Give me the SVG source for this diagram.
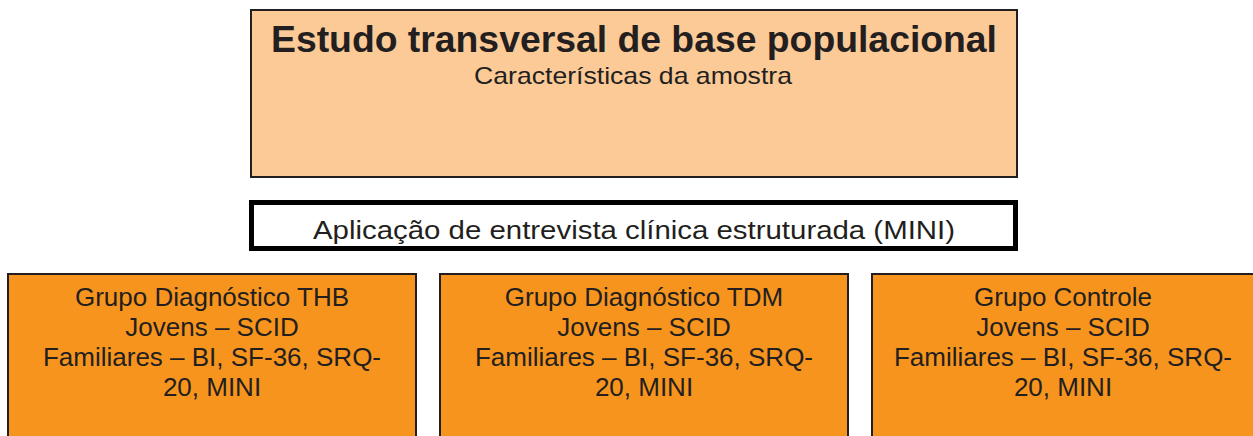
<svg xmlns="http://www.w3.org/2000/svg" width="1253" height="436" viewBox="0 0 1253 436">
<style>
.t{font-family:"Liberation Sans",Arial,sans-serif;fill:#231F20;text-anchor:middle}
.g{fill:#F7941D;stroke:#231F20;stroke-width:2}
.l{font-size:26px}
</style>
<rect width="1253" height="436" fill="#fff"/>
<g id="estudo">
<rect x="251" y="10" width="766" height="167" fill="#FCCA96" stroke="#231F20" stroke-width="2"/>
<text class="t" x="634" y="52" font-size="36" font-weight="bold" textLength="726" lengthAdjust="spacingAndGlyphs">Estudo transversal de base populacional</text>
<text class="t" x="633" y="84" font-size="24" textLength="318" lengthAdjust="spacingAndGlyphs">Características da amostra</text>
</g>
<g id="mini">
<rect x="251.5" y="202.5" width="764" height="46" fill="#fff" stroke="#000" stroke-width="5"/>
<text class="t" x="634" y="239" font-size="26" textLength="642" lengthAdjust="spacingAndGlyphs">Aplicação de entrevista clínica estruturada (MINI)</text>
</g>
<g id="thb">
<rect class="g" x="8" y="274" width="408" height="170"/>
<text class="t l" x="212" y="306">Grupo Diagnóstico THB</text>
<text class="t l" x="212" y="336">Jovens – SCID</text>
<text class="t l" x="212" y="366">Familiares – BI, SF-36, SRQ-</text>
<text class="t l" x="212" y="396">20, MINI</text>
</g>
<g id="tdm">
<rect class="g" x="440" y="274" width="408" height="170"/>
<text class="t l" x="644" y="306">Grupo Diagnóstico TDM</text>
<text class="t l" x="644" y="336">Jovens – SCID</text>
<text class="t l" x="644" y="366">Familiares – BI, SF-36, SRQ-</text>
<text class="t l" x="644" y="396">20, MINI</text>
</g>
<g id="controle">
<rect class="g" x="872" y="274" width="408" height="170"/>
<text class="t l" x="1063" y="306">Grupo Controle</text>
<text class="t l" x="1063" y="336">Jovens – SCID</text>
<text class="t l" x="1063" y="366">Familiares – BI, SF-36, SRQ-</text>
<text class="t l" x="1063" y="396">20, MINI</text>
</g>
<g id="connectors"></g>
</svg>
